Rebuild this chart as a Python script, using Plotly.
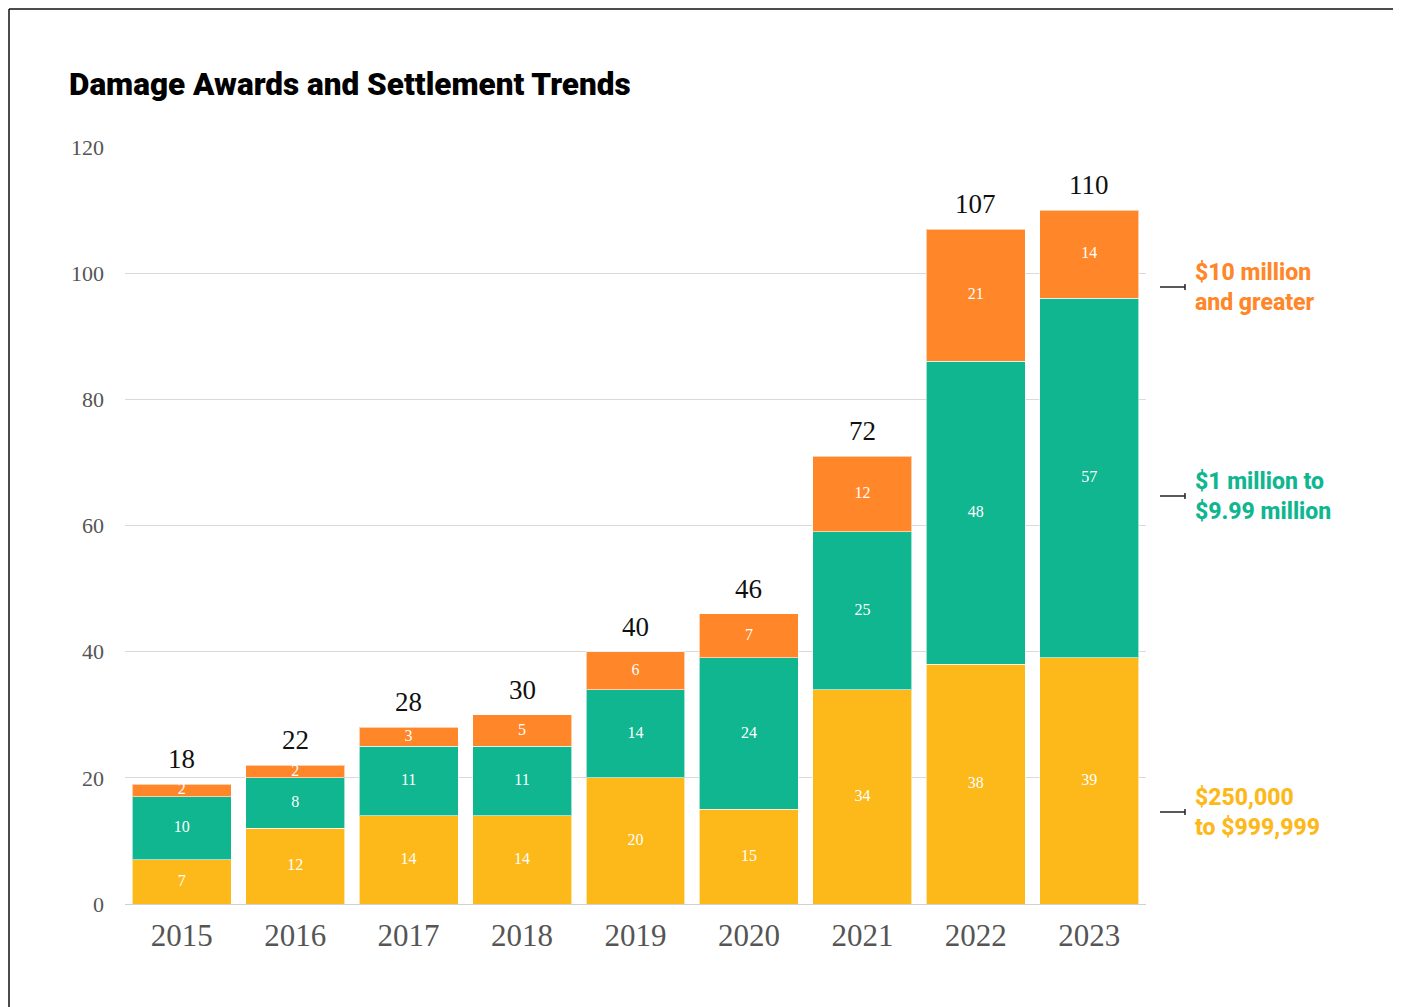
import plotly.graph_objects as go

years = ["2015", "2016", "2017", "2018", "2019", "2020", "2021", "2022", "2023"]
low = [7, 12, 14, 14, 20, 15, 34, 38, 39]          # $250,000 to $999,999
mid = [10, 8, 11, 11, 14, 24, 25, 48, 57]          # $1 million to $9.99 million
high = [2, 2, 3, 5, 6, 7, 12, 21, 14]              # $10 million and greater
totals = [18, 22, 28, 30, 40, 46, 72, 107, 110]
y_ticks = [0, 20, 40, 60, 80, 100, 120]

series_names = ["$250,000<br>to $999,999", "$1 million to<br>$9.99 million", "$10 million<br>and greater"]
colors = ["#FDB81A", "#0FB68F", "#FF8629"]

OFF = 8  # page body margin
W, H = 1393, 999
L, R, T, B = 125 - OFF, 1146 - OFF, 147 - OFF, 904 - OFF
PW, PH = R - L, B - T

def px_x(px):
    return (px - OFF - L) / PW

def px_y(py):
    return (B - (py - OFF)) / PH

SERIF = "Liberation Serif"
SANS = "Roboto"

fig = go.Figure()
series = [low, mid, high]
for vals, col in zip(series, colors):
    fig.add_trace(go.Bar(
        x=years, y=vals, marker=dict(color=col, line=dict(color="rgba(255,255,255,0.6)", width=1)),
        hoverinfo="skip", showlegend=False,
    ))

# inside value labels at segment centres
base = [0] * len(years)
for vals in series:
    centers = [b + v / 2 for b, v in zip(base, vals)]
    fig.add_trace(go.Scatter(
        x=years, y=centers, mode="text", text=[str(v) for v in vals],
        textfont=dict(family=SERIF, size=16, color="white"),
        textposition="middle center", hoverinfo="skip", showlegend=False,
    ))
    base = [b + v for b, v in zip(base, vals)]

# totals above bars
for i, (top, tot) in enumerate(zip(base, totals)):
    fig.add_annotation(x=i, y=top, text=str(tot), showarrow=False, yanchor="bottom",
                       yshift=8, font=dict(family=SERIF, size=27, color="#111"))

# side legend labels
legend_pos = [(812, 0), (496, 1), (287, 2)]
for py, i in legend_pos:
    fig.add_annotation(xref="paper", yref="paper", x=px_x(1193), y=px_y(py), text=series_names[i],
                       showarrow=False, xanchor="left", yanchor="middle", align="left",
                       font=dict(family=SANS, size=23, color=colors[i], weight=800))
    fig.add_shape(type="line", xref="paper", yref="paper", x0=px_x(1160), x1=px_x(1185),
                  y0=px_y(py), y1=px_y(py), line=dict(color="#222", width=1.5))
    fig.add_shape(type="line", xref="paper", yref="paper", x0=px_x(1185), x1=px_x(1185),
                  y0=px_y(py - 3), y1=px_y(py + 3), line=dict(color="#222", width=1.5))

# frame lines (left and top)
fig.add_shape(type="line", xref="paper", yref="paper", x0=px_x(9), x1=px_x(9),
              y0=px_y(9), y1=px_y(1010), line=dict(color="#111", width=1.5))
fig.add_shape(type="line", xref="paper", yref="paper", x0=px_x(9), x1=px_x(1405),
              y0=px_y(9), y1=px_y(9), line=dict(color="#111", width=1.5))

# title
fig.add_annotation(xref="paper", yref="paper", x=px_x(67), y=px_y(84), text="Damage Awards and Settlement Trends",
                   showarrow=False, xanchor="left", yanchor="middle",
                   font=dict(family=SANS, size=31.5, color="#000", weight=900))

fig.update_layout(
    width=W, height=H, barmode="stack", bargap=0.128,
    margin=dict(l=L, r=W - R, t=T, b=H - B, pad=0),
    plot_bgcolor="white", paper_bgcolor="white",
    xaxis=dict(type="category", range=[-0.5, len(years) - 0.5], showgrid=False, showline=False, ticks="",
               tickfont=dict(family=SERIF, size=31, color="#555"), ticklabelstandoff=10),
    yaxis=dict(range=[0, 120], tickvals=y_ticks, showgrid=True, gridcolor="#DADADA", gridwidth=1,
               zeroline=True, zerolinecolor="#D0D0D0", zerolinewidth=1, showline=False, ticks="",
               tickfont=dict(family=SERIF, size=22, color="#555"), ticklabelstandoff=20),
)

fig.write_html("out.html")
